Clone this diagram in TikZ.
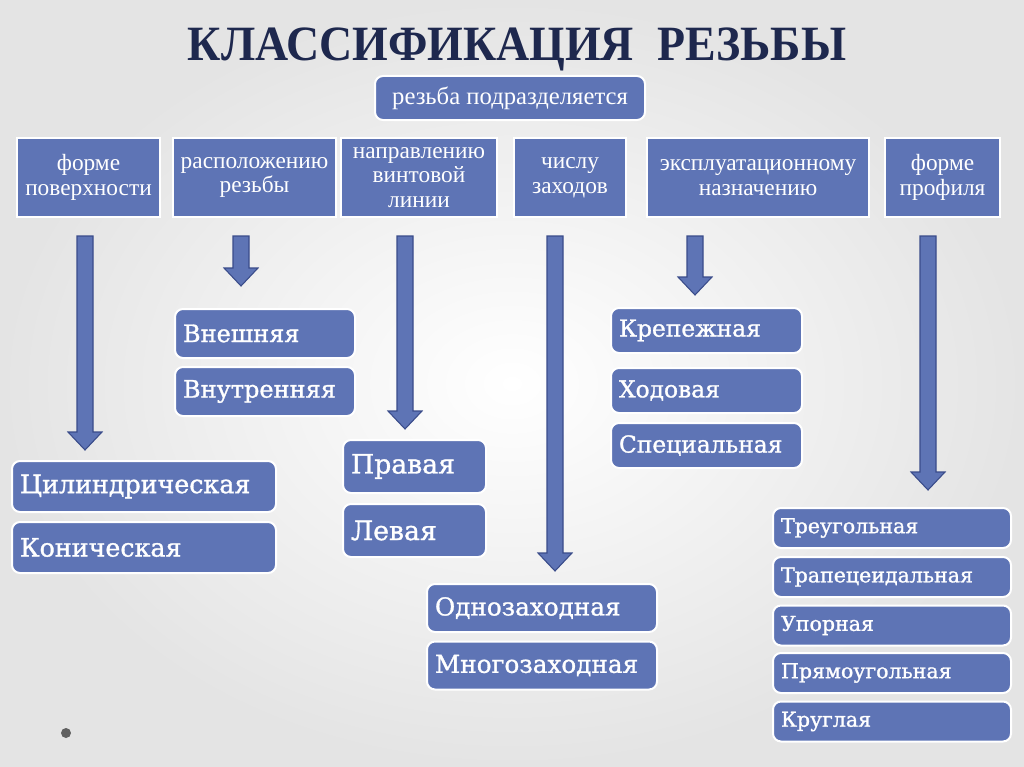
\documentclass[tikz,border=0pt]{standalone}
\usepackage{fontspec}
\setmainfont{Liberation Serif}
\newfontfamily\leaffont[FakeBold=1.2]{DejaVu Serif}
\usetikzlibrary{calc}
\definecolor{boxblue}{RGB}{94,116,181}
\definecolor{arrowedge}{RGB}{58,76,138}
\definecolor{titleblue}{RGB}{30,40,78}
\definecolor{bgedge}{RGB}{228,228,228}
\newcommand\blockarrow[2]{%
  \draw[barrow] let \p1=(#1), \p2=(#2) in
    (\x1-6pt,\y1) -- (\x1+6pt,\y1) -- (\x1+6pt,\y2+13.5pt) -- (\x1+12.75pt,\y2+13.5pt)
    -- (\x1,\y2) -- (\x1-12.75pt,\y2+13.5pt) -- (\x1-6pt,\y2+13.5pt) -- cycle;}
\begin{document}
\begin{tikzpicture}[x=0.75pt,y=-0.75pt,
  catbox/.style 2 args={fill=boxblue, draw=white, line width=2pt, text=white,
    align=center, inner sep=0pt, minimum width=#1*0.75pt, minimum height=#2*0.75pt,
    font=\fontsize{17.5}{18.5}\selectfont},
  leaf/.style n args={3}{fill=boxblue, draw=white, line width=1.5pt, rounded corners=6pt,
    text=white, inner xsep=6pt, inner ysep=0pt, minimum width=#1*0.75pt,
    minimum height=#2*0.75pt, text width=#1*0.75pt-12pt, align=left,
    font=\leaffont\fontsize{#3}{#3}\selectfont},
  barrow/.style={fill=boxblue, draw=arrowedge, line width=0.8pt, line join=miter}]
\useasboundingbox (0,0) rectangle (1024,767);
\shade[inner color=white, outer color=bgedge] (0,0) rectangle (1024,767);
\fill[gray!75!black] (66,733) circle (5);

\node[font=\fontsize{37}{40}\bfseries, text=titleblue, xscale=0.93] (title) at (517,49) {КЛАССИФИКАЦИЯ\ \ РЕЗЬБЫ};

\node[fill=boxblue, draw=white, line width=1.5pt, rounded corners=6pt, text=white,
  minimum width=270*0.75pt, minimum height=44*0.75pt, font=\fontsize{18.5}{20}\selectfont]
  (root) at (510,98) {резьба подразделяется};

\node[catbox={143}{79}] (c1) at (88.5,177.5) {форме\\поверхности};
\node[catbox={163}{79}] (c2) at (254.5,177.5) {расположению\\резьбы};
\node[catbox={156}{79}] (c3) at (419,177.5) {направлению\\винтовой\\линии};
\node[catbox={112}{79}] (c4) at (570,177.5) {числу\\заходов};
\node[catbox={222}{79}] (c5) at (758,177.5) {эксплуатационному\\назначению};
\node[catbox={115}{79}] (c6) at (942.5,177.5) {форме\\профиля};

\coordinate (a1s) at (85,236);  \coordinate (a1e) at (85,450);
\coordinate (a2s) at (241,236); \coordinate (a2e) at (241,286);
\coordinate (a3s) at (405,236); \coordinate (a3e) at (405,429);
\coordinate (a4s) at (555,236); \coordinate (a4e) at (555,571);
\coordinate (a5s) at (695,236); \coordinate (a5e) at (695,295);
\coordinate (a6s) at (928,236); \coordinate (a6e) at (928,490);
\blockarrow{a1s}{a1e}
\blockarrow{a2s}{a2e}
\blockarrow{a3s}{a3e}
\blockarrow{a4s}{a4e}
\blockarrow{a5s}{a5e}
\blockarrow{a6s}{a6e}

\node[leaf={264}{51}{19}] (cyl) at (144,486.5) {Цилиндрическая};
\node[leaf={264}{51}{19}] (kon) at (144,547.5) {Коническая};
\node[leaf={180}{49}{18}] (vn) at (265,333.5) {Внешняя};
\node[leaf={180}{49}{18}] (vnt) at (265,391.5) {Внутренняя};
\node[leaf={143}{53}{20}] (prav) at (414.5,466.5) {Правая};
\node[leaf={143}{53}{20}] (lev) at (414.5,530.5) {Левая};
\node[leaf={230}{48}{18.5}] (odn) at (542,608) {Однозаходная};
\node[leaf={230}{48}{18.5}] (mno) at (542,665.5) {Многозаходная};
\node[leaf={191}{45}{17.5}] (krep) at (706.5,330.5) {Крепежная};
\node[leaf={191}{45}{17.5}] (hod) at (706.5,390.5) {Ходовая};
\node[leaf={191}{45}{17.5}] (spec) at (706.5,445.5) {Специальная};
\node[leaf={238}{40}{15.4}] (p1) at (892,528) {Треугольная};
\node[leaf={238}{40}{15.4}] (p2) at (892,577) {Трапецеидальная};
\node[leaf={238}{40}{15.4}] (p3) at (892,625.5) {Упорная};
\node[leaf={238}{40}{15.4}] (p4) at (892,673) {Прямоугольная};
\node[leaf={238}{40}{15.4}] (p5) at (892,721.5) {Круглая};
\end{tikzpicture}
\end{document}
